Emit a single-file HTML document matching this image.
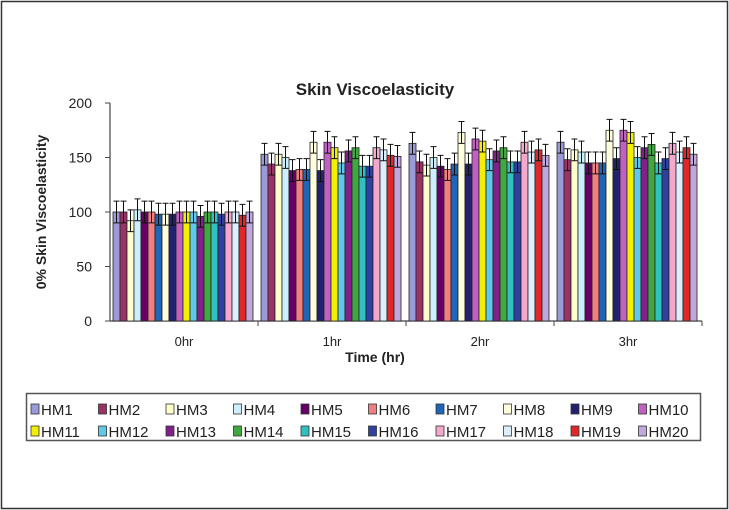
<!DOCTYPE html>
<html><head><meta charset="utf-8"><style>
body{margin:0;background:#fff}
svg{display:block;font-family:"Liberation Sans",Arial,sans-serif}
</style></head><body>
<svg id="chart" width="729" height="510" viewBox="0 0 729 510">
<rect x="1.5" y="1.5" width="726" height="507" fill="#fff" stroke="#333" stroke-width="1.5"/>
<text x="375" y="95" text-anchor="middle" font-size="17" font-weight="bold" fill="#222">Skin Viscoelasticity</text>
<text transform="translate(46,212) rotate(-90)" text-anchor="middle" font-size="14" font-weight="bold" fill="#222">0% Skin Viscoelasticity</text>
<text x="375" y="362" text-anchor="middle" font-size="14" font-weight="bold" fill="#222">Time (hr)</text>
<g id="plot"></g>
<rect x="26.5" y="393.5" width="674" height="47" fill="#fff" stroke="#555" stroke-width="1.5"/>
<g id="legend"></g>
</svg>
<script>
const categories=["0hr","1hr","2hr","3hr"];
const seriesNames=["HM1","HM2","HM3","HM4","HM5","HM6","HM7","HM8","HM9","HM10","HM11","HM12","HM13","HM14","HM15","HM16","HM17","HM18","HM19","HM20"];
const colors=["#9a9ad8","#993366","#ffffcc","#cceeff","#660066","#f08080","#1f66b8","#ffffdd","#22226e","#c060c0","#f0f000","#60c8e8","#802088","#40a840","#30c0c0","#3040a0","#f4a8cc","#ddeeff","#e02828","#c0a8dc"];
const v0=[100,100,92,102,100,100,98,98,98,100,100,100,96,100,100,98,100,100,97,100];
const v1=[153,144,153,150,138,139,139,164,138,164,159,145,156,159,142,142,159,157,152,151];
const v2=[163,146,143,150,142,139,144,173,144,167,165,148,156,159,146,146,164,155,157,152];
const v3=[164,148,157,155,145,145,145,175,149,175,173,150,159,162,145,149,163,155,159,153];
const errs=[10,10,10,10,10,10,10,10,10,10,10,10,10,10,10,10,10,10,10,10];
const yTicks=[0,50,100,150,200];
const values=[v0,v1,v2,v3];
const NS="http://www.w3.org/2000/svg";
const X0=110,GW=148,Y0=321,YMAX=200,YH=218;
function y(v){return Y0-v/YMAX*YH;}
function gx(i){return X0+i*GW;}
function mk(t,a,p){const e=document.createElementNS(NS,t);for(const k in a)e.setAttribute(k,a[k]);p.appendChild(e);return e;}
const plot=document.getElementById('plot');
const ya=mk('line',{x1:X0,y1:y(YMAX),x2:X0,y2:Y0,stroke:'#444','stroke-width':1.2},plot);


yTicks.forEach(t=>{
 const l=mk('line',{x1:X0-5,y1:y(t),x2:X0,y2:y(t),stroke:'#444'},plot);
 
 
 const tx=mk('text',{x:X0-18,y:y(t)+5,'text-anchor':'end','font-size':14,fill:'#222'},plot);
 tx.textContent=t;
 
 
});
const xa=mk('line',{x1:X0,y1:Y0,x2:gx(categories.length),y2:Y0,stroke:'#444','stroke-width':1.2},plot);


categories.forEach((c,i)=>{
 const l=mk('line',{x1:gx(i+1),y1:Y0,x2:gx(i+1),y2:Y0+5,stroke:'#444'},plot);
 
 
 const tx=mk('text',{x:gx(i)+GW/2,y:Y0+25,'text-anchor':'middle','font-size':13,fill:'#222'},plot);
 tx.textContent=c;
 
 
});
const BW=7,PAD=3;
values.forEach((arr,gi)=>{
 arr.forEach((v,si)=>{
  const x=gx(gi)+PAD+si*BW;
  const r=mk('rect',{x:x,y:y(v),width:BW,height:Y0-y(v),fill:colors[si],stroke:'#222','stroke-width':0.8},plot);
  
  
  const cx=x+BW/2,e=errs[si];
  const eb=mk('path',{d:`M${cx},${y(v-e)}V${y(v+e)}M${cx-3},${y(v+e)}H${cx+3}M${cx-3},${y(v-e)}H${cx+3}`,stroke:'#111','stroke-width':1,fill:'none'},plot);
  
  
 });
});
const lg=document.getElementById('legend');
seriesNames.forEach((n,i)=>{
 const row=Math.floor(i/10),col=i%10;
 const x=31+col*67.5,yy=404+row*22;
 const g=mk('g',{},lg);
 
 
 mk('rect',{x:x,y:yy,width:8,height:10,fill:colors[i],stroke:'#333','stroke-width':0.8},g);
 const t=mk('text',{x:x+10,y:yy+11,'font-size':15,fill:'#222'},g);
 t.textContent=n;
});
</script>
</body></html>
